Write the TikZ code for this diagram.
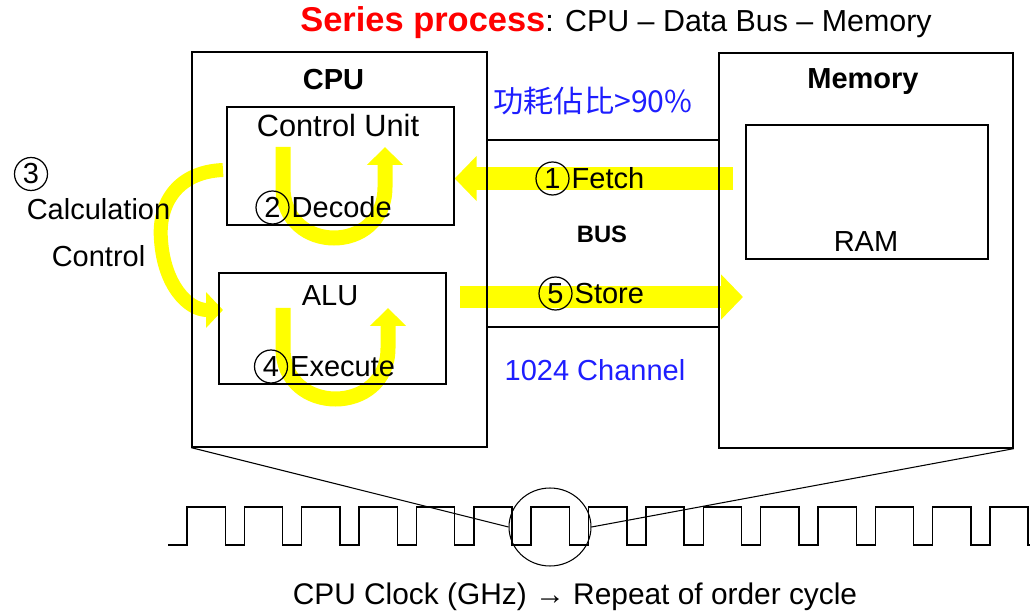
\documentclass[tikz,border=0pt]{standalone}
\usepackage{fontspec}
\setmainfont{Liberation Sans}
\newfontfamily\cjk{Noto Sans CJK TC}
\usetikzlibrary{arrows.meta,positioning,shapes.geometric}
\definecolor{hiyel}{RGB}{255,255,0}
\definecolor{txtblue}{RGB}{30,30,255}
\pgfdeclarelayer{bg}
\pgfsetlayers{bg,main}

\begin{document}
\begin{tikzpicture}[
    x=0.02cm, y=-0.02cm,
    font=\fontsize{16.5}{19}\selectfont,
    box/.style={draw, line width=0.8pt, inner sep=0pt},
    num/.style={draw, circle, line width=0.7pt, minimum size=0.66cm, inner sep=0pt},
    lbl/.style={inner sep=1pt},
    bigarrow/.style={draw=hiyel, line width=0.46cm, -{Triangle[width=0.88cm, length=0.44cm]}},
    uarrow/.style={draw=hiyel, line width=0.3cm, -{Triangle[width=0.7cm, length=0.36cm]}},
    carrow/.style={draw=hiyel, line width=0.28cm, -{Triangle[width=0.7cm, length=0.34cm]}},
    node distance=0pt
  ]
  \useasboundingbox (0,0) rectangle (1030,614);

  % boxes
  \node[box, minimum width=5.9cm, minimum height=7.9cm] (cpu) at (339.5,249.5) {};
  \node[box, minimum width=5.88cm, minimum height=7.9cm] (mem) at (866,250.5) {};
  \node[box, minimum width=4.64cm, minimum height=3.74cm] (bus) at (603,233.5) {};
  \node[box, minimum width=4.54cm, minimum height=2.36cm] (cu) at (340.5,166) {};
  \node[box, minimum width=4.54cm, minimum height=2.22cm] (alu) at (332.5,328.5) {};
  \node[box, minimum width=4.84cm, minimum height=2.68cm] (ram) at (867,192) {};

  % titles and labels
  \node[font=\fontsize{17.3}{20}\selectfont] (title) at (616,23) {\textcolor{red}{\bfseries\fontsize{19.6}{22}\selectfont Series process}: CPU – Data Bus – Memory};
  \node[font=\bfseries\fontsize{16.5}{19}\selectfont] (cpulbl) at (333.5,80) {CPU};
  \node[font=\bfseries\fontsize{16.5}{19}\selectfont] (memlbl) at (863,82) {Memory};
  \node[font=\fontsize{17.5}{20}\selectfont] (culbl) at (338,126) {Control Unit};
  \node (alulbl) at (330,296) {ALU};
  \node (ramlbl) at (866,242) {RAM};
  \node[font=\bfseries\fontsize{13.5}{16}\selectfont] (buslbl) at (602,234) {BUS};
  \node[text=txtblue, font=\cjk\fontsize{17.2}{20}\selectfont] (power) at (593,101) {功耗佔比>90\%};
  \node[text=txtblue] (chan) at (595,370) {1024 Channel};

  % numbered steps
  \node[num] (c1) at (552.5,178.5) {1};
  \node[lbl, right=0pt of c1] (fetch) {Fetch};
  \node[num] (c2) at (272.5,207.5) {2};
  \node[lbl, right=0pt of c2] (decode) {Decode};
  \node[num] (c3) at (31,174) {3};
  \node (calc) at (98.5,209) {Calculation};
  \node (ctrl) at (98.5,256) {Control};
  \node[num] (c4) at (271,366.5) {4};
  \node[lbl, right=0pt of c4] (execute) {Execute};
  \node[num] (c5) at (555.5,293.5) {5};
  \node[lbl, right=0pt of c5] (store) {Store};

  % yellow flow arrows
  \coordinate (fetchtail) at (733,178.5);
  \coordinate (storetail) at (460,297);
  \coordinate (storetip) at (743,297);
  \coordinate (calcout) at (223,170);
  \coordinate (calcin) at (223,310);
  \coordinate (decin) at (283,147);
  \coordinate (decout) at (385,147);
  \coordinate (exein) at (283,308);
  \coordinate (exeout) at (388,308);
  \begin{pgfonlayer}{bg}
    \draw[bigarrow] (fetchtail) -- (cu.east |- c1);
    \draw[bigarrow] (storetail) -- (storetip);
    \draw[uarrow] (decin) -- (283,187) .. controls (283,255) and (385,255) .. (385,187) -- (decout);
    \draw[uarrow] (exein) -- (283,348) .. controls (283,416) and (388,416) .. (388,348) -- (exeout);
    \draw[carrow] (calcout) .. controls (176,172) and (158,205) .. (161,240)
      .. controls (164,285) and (188,310) .. (calcin);
  \end{pgfonlayer}

  % clock
  \draw[line width=0.8pt] (168,545) -- (187,545)
    \foreach \i in {1,...,14}{ -- ++(0,-38) -- ++(38.3,0) -- ++(0,38) -- ++(19.06,0) }
    -- ++(0,-38) -- ++(38,0) -- ++(0,38) -- (1030,545);
  \node[draw, ellipse, line width=0.6pt, minimum width=1.64cm, minimum height=1.56cm] (zoomc) at (550,527) {};
  \draw[line width=0.6pt] (cpu.south west) -- (zoomc.west);
  \draw[line width=0.6pt] (mem.south east) -- (zoomc.east);
  \node[font=\fontsize{17}{20}\selectfont] (clock) at (575,597) {CPU Clock (GHz) → Repeat of order cycle};
\end{tikzpicture}
\end{document}
